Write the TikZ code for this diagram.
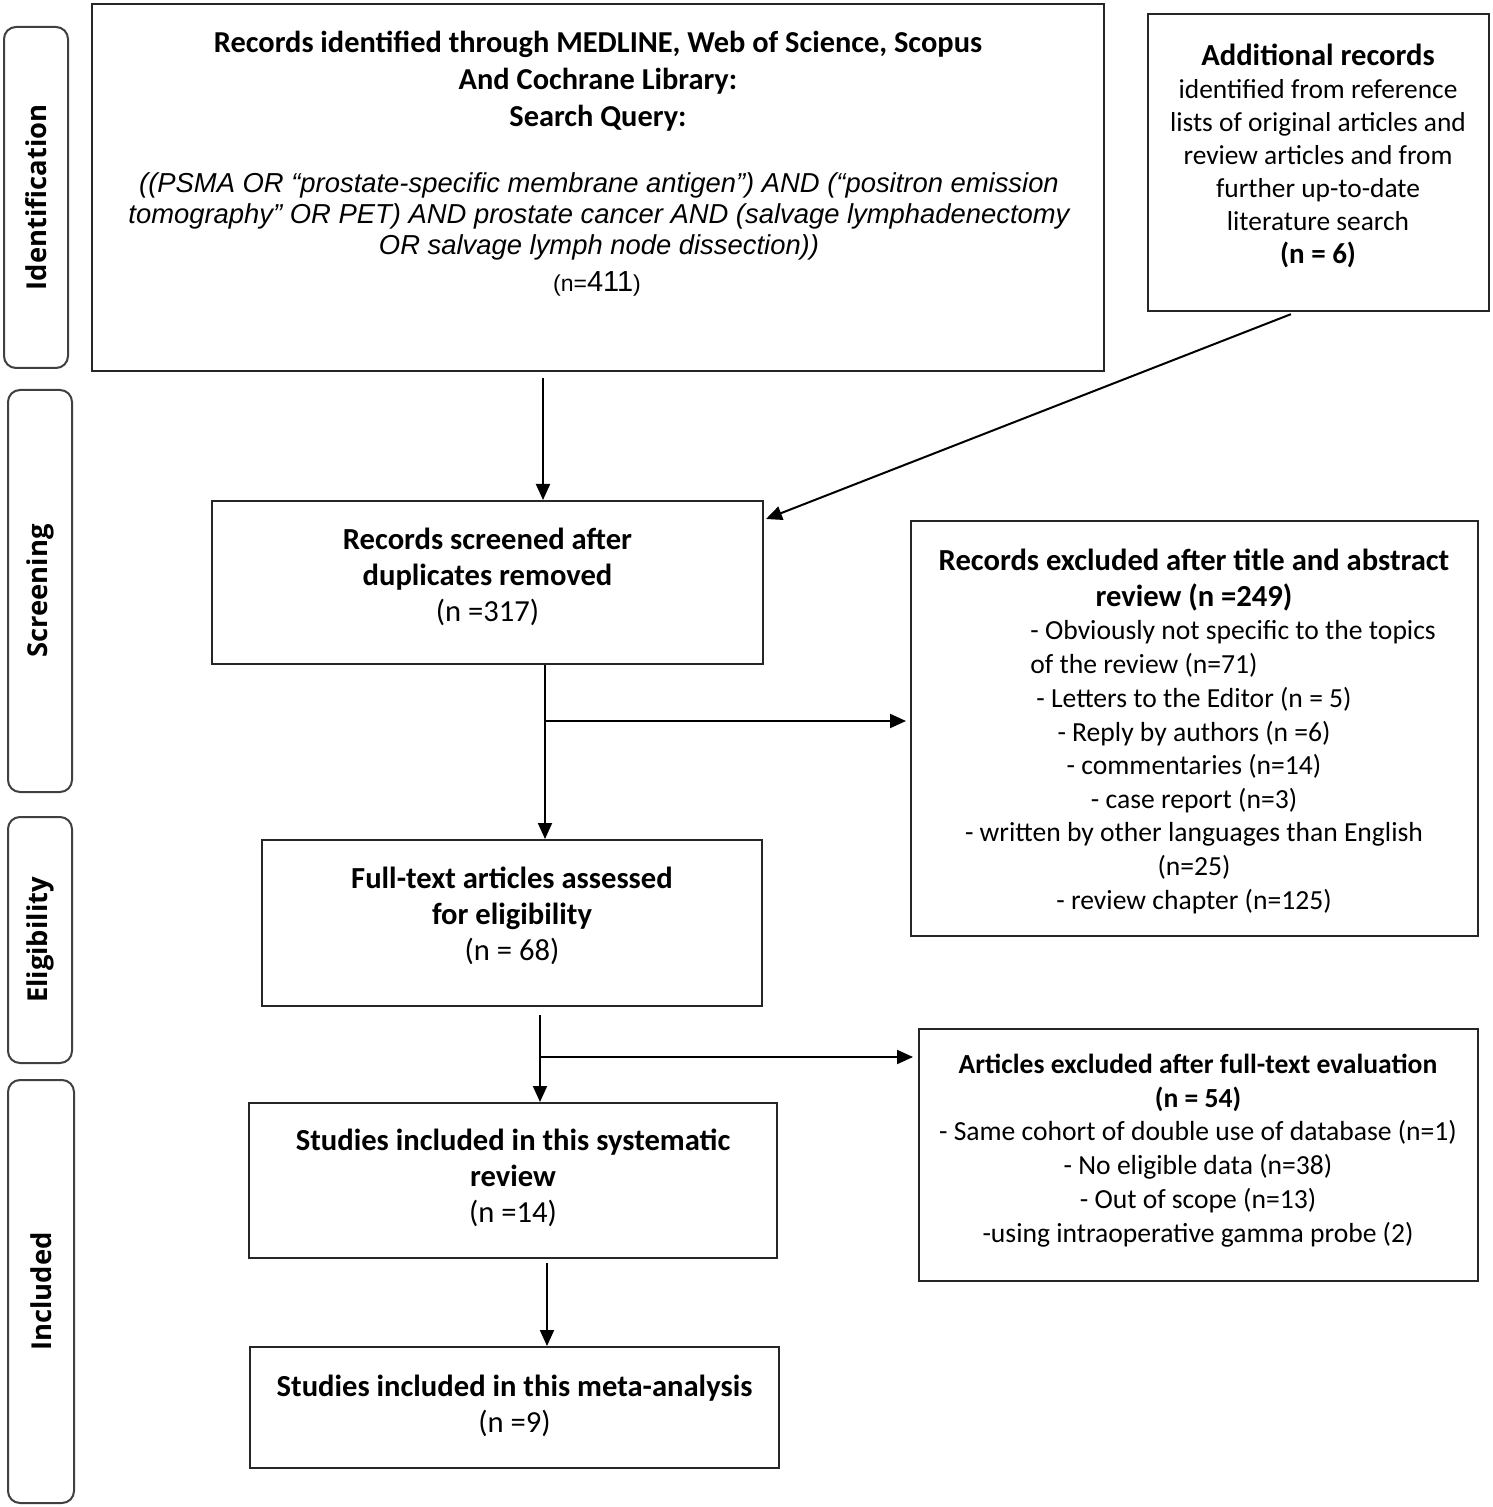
\documentclass[tikz,border=0pt]{standalone}
\usepackage{fontspec}
\setmainfont{Carlito}
\newfontfamily\sidefont{Open Sans}
\newfontfamily\qfont{Liberation Sans}
\usetikzlibrary{arrows.meta,fit,calc}
\begin{document}
\begin{tikzpicture}[x=0.5pt,y=-0.5pt,
 box/.style={draw=black!85, line width=1pt, inner sep=0pt, rectangle},
 side/.style={draw=black!75, line width=1pt, rounded corners=6pt, inner sep=0pt},
 sidelab/.style={rotate=90, inner sep=0pt, font=\sidefont\bfseries\fontsize{13.7}{15}\selectfont},
 txt/.style={align=center, inner sep=0pt, font=\fontsize{15.3}{18}\selectfont},
 small/.style={align=center, inner sep=0pt, font=\fontsize{13.8}{16.8}\selectfont},
 arr/.style={line width=1pt, -{Triangle[length=8pt,width=7pt]}},
 ln/.style={line width=1pt}]
\useasboundingbox[fill=white] (0,0) rectangle (1492,1507);

% side labels
\node[side, fit={(4,27) (68,368)}] (S1) {};
\node[sidelab] (S1t) at (S1.center) {Identification};
\node[side, fit={(8,390) (72,792)}] (S2) {};
\node[sidelab] (S2t) at (S2.center) {Screening};
\node[side, fit={(8,817) (72,1063)}] (S3) {};
\node[sidelab] (S3t) at (S3.center) {Eligibility};
\node[side, fit={(8,1080) (74,1503)}] (S4) {};
\node[sidelab] (S4t) at (S4.center) {Included};

% boxes
\node[box, fit={(92,4) (1104,371)}] (A) {};
\node[txt, font=\bfseries\fontsize{15.2}{18.5}\selectfont] (A1) at (598,81)
  {Records identified through MEDLINE, Web of Science, Scopus\\And Cochrane Library:\\Search Query:};
\node[align=center, inner sep=0pt, font=\qfont\itshape\fontsize{13.7}{15.5}\selectfont] (A2) at (599,216)
  {((PSMA OR “prostate-specific membrane antigen”) AND (“positron emission\\
   tomography” OR PET) AND prostate cancer AND (salvage lymphadenectomy\\
   OR salvage lymph node dissection))};
\node[inner sep=0pt, font=\qfont] (A3) at (597,284) {{\fontsize{11.5}{13}\selectfont(n=}{\fontsize{14.5}{15}\selectfont 411}{\fontsize{11.5}{13}\selectfont)}};

\node[box, fit={(1148,14) (1489,311)}] (B) {};
\node[small, font=\fontsize{13.7}{16.5}\selectfont] (B1) at (1318,155.5)
  {{\bfseries\fontsize{15.3}{16.5}\selectfont Additional records}\\
   identified from reference\\lists of original articles and\\review articles and from\\
   further up-to-date\\literature search\\{\bfseries\fontsize{14.5}{16.5}\selectfont (n = 6)}};

\node[box, fit={(212,501) (763,664)}] (C) {};
\node[txt] (C1) at (487.5,577) {\bfseries Records screened after\\\bfseries duplicates removed\\(n =317)};

\node[box, fit={(911,521) (1478,936)}] (D) {};
\node[txt, font=\bfseries\fontsize{15.3}{18}\selectfont] (D1) at (1194,580)
  {Records excluded after title and abstract\\review (n =249)};
\node[small, align=left, anchor=west] (D2) at (1030,649)
  {- Obviously not specific to the topics\\of the review (n=71)};
\node[small] (D3) at (1194,800.5)
  {- Letters to the Editor (n = 5)\\- Reply by authors (n =6)\\- commentaries (n=14)\\- case report (n=3)\\
   - written by other languages than English\\(n=25)\\- review chapter (n=125)};

\node[box, fit={(262,840) (762,1006)}] (E) {};
\node[txt] (E1) at (512,916) {\bfseries Full-text articles assessed\\\bfseries for eligibility\\(n = 68)};

\node[box, fit={(919,1029) (1478,1281)}] (F) {};
\node[small, font=\fontsize{13.8}{16.9}\selectfont] (F1) at (1198,1150.5)
  {\bfseries Articles excluded after full-text evaluation\\\bfseries (n = 54)\\
   - Same cohort of double use of database (n=1)\\- No eligible data (n=38)\\
   - Out of scope (n=13)\\-using intraoperative gamma probe (2)};

\node[box, fit={(249,1103) (777,1258)}] (G) {};
\node[txt] (G1) at (513,1178) {\bfseries Studies included in this systematic\\\bfseries review\\(n =14)};

\node[box, fit={(250,1347) (779,1468)}] (H) {};
\node[txt] (H1) at (514.5,1405.5) {\bfseries Studies included in this meta-analysis\\(n =9)};

% connectors
\draw[arr] (A.south -| 543,0) ++(0,6) -- (C.north -| 543,0);
\draw[arr, shorten <=3pt] ([xshift=-11pt]B.south) -- ([shift={(2,19)}]C.north east);
\coordinate (c1) at (545,721);
\draw[arr] (C.south -| c1) -- (E.north -| c1);
\draw[arr, shorten >=2pt] (c1) -- (c1 -| D.west);
\coordinate (e1) at (540,1057);
\draw[arr, shorten <=4pt] (E.south -| e1) -- (G.north -| e1);
\draw[arr, shorten >=2.5pt] (e1) -- (e1 -| F.west);
\draw[arr, shorten <=2pt] (G.south -| 547,0) -- (H.north -| 547,0);
\end{tikzpicture}
\end{document}
